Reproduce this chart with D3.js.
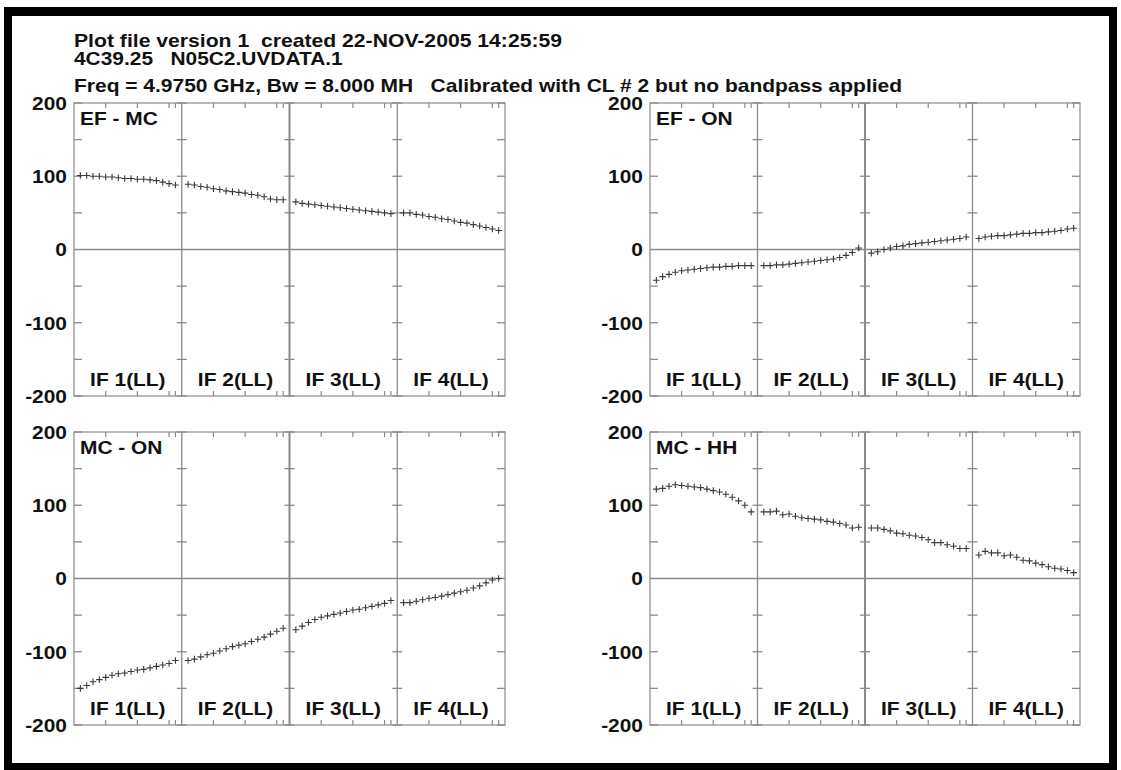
<!DOCTYPE html>
<html>
<head>
<meta charset="utf-8">
<script src="https://cdn.jsdelivr.net/npm/d3@7"></script>
<style>
  html, body { margin: 0; padding: 0; background: #fff; }
  svg { display: block; }
  text { font-family: "Liberation Sans", Arial, Helvetica, sans-serif; font-weight: bold; fill: #111; }
</style>
</head>
<body>
<script>
// ---------- data ----------
const headerLines = [
  "Plot file version 1  created 22-NOV-2005 14:25:59",
  "4C39.25   N05C2.UVDATA.1",
  "Freq = 4.9750 GHz, Bw = 8.000 MH   Calibrated with CL # 2 but no bandpass applied"
];
const panelTitles = ["EF - MC", "EF - ON", "MC - ON", "MC - HH"];
const ifLabels = ["IF 1(LL)", "IF 2(LL)", "IF 3(LL)", "IF 4(LL)"];
const channels = [1, 2, 3, 4, 5, 6, 7, 8, 9, 10, 11, 12, 13, 14, 15, 16];
const channelTicks = [5, 10, 15, 16];
const yTickLabels = [-200, -100, 0, 100, 200];
const yMinorTicks = [-200, -150, -100, -50, 50, 100, 150, 200];

const efMc = [
  [101, 101, 100, 100, 99, 99, 98, 97, 97, 96, 96, 95, 94, 92, 90, 88],
  [89, 88, 86, 85, 83, 82, 80, 79, 78, 77, 75, 74, 72, 69, 68, 68],
  [65, 63, 62, 61, 60, 59, 58, 57, 56, 55, 54, 53, 52, 51, 50, 49],
  [50, 50, 48, 47, 45, 44, 42, 41, 39, 37, 36, 34, 32, 30, 28, 26]
];
const efOn = [
  [-42, -37, -34, -31, -29, -28, -27, -26, -25, -24, -24, -23, -23, -22, -22, -22],
  [-22, -22, -21, -21, -20, -19, -18, -17, -16, -15, -14, -13, -11, -8, -4, 2],
  [-5, -3, 0, 2, 4, 5, 7, 8, 9, 10, 11, 12, 13, 14, 15, 17],
  [15, 17, 18, 19, 19, 20, 21, 22, 22, 23, 23, 24, 25, 26, 28, 29]
];
const mcOn = [
  [-150, -146, -141, -138, -135, -132, -130, -129, -127, -125, -124, -122, -120, -118, -116, -112],
  [-112, -110, -107, -104, -102, -99, -96, -93, -91, -89, -86, -83, -80, -76, -72, -68],
  [-70, -65, -60, -56, -53, -51, -49, -47, -45, -43, -42, -40, -38, -36, -34, -30],
  [-33, -33, -31, -29, -27, -26, -24, -22, -20, -18, -16, -13, -10, -6, -2, 0]
];
const mcHh = [
  [122, 123, 126, 128, 127, 126, 125, 124, 122, 120, 118, 115, 111, 106, 100, 91],
  [91, 91, 92, 87, 88, 85, 83, 82, 81, 80, 78, 77, 75, 73, 69, 70],
  [69, 69, 67, 65, 62, 61, 59, 58, 56, 53, 49, 49, 46, 44, 41, 41],
  [32, 37, 35, 35, 31, 32, 29, 25, 24, 21, 19, 16, 14, 13, 11, 8]
];
const panelSeries = [efMc, efOn, mcOn, mcHh];

// ---------- layout ----------
const W = 1121, H = 770;
const panelBoxes = [
  { x0: 74,  x1: 505,  y0: 103, y1: 396 },
  { x0: 650, x1: 1080, y0: 103, y1: 396 },
  { x0: 74,  x1: 505,  y0: 432, y1: 725 },
  { x0: 650, x1: 1080, y0: 432, y1: 725 }
];
const gridColor = "#8a8a8a";
const FONT = 19;
const STRETCH = 1.1;

const svg = d3.select("body").append("svg")
  .attr("width", W).attr("height", H)
  .attr("viewBox", `0 0 ${W} ${H}`);

svg.append("rect").attr("width", W).attr("height", H).attr("fill", "#fff");

// widen glyphs horizontally like the original plot font
function widen(sel, target) {
  sel.each(function () {
    const len = this.getComputedTextLength();
    d3.select(this)
      .attr("textLength", target || len * STRETCH)
      .attr("lengthAdjust", "spacingAndGlyphs");
  });
  return sel;
}

// thick black frame
const frame = svg.append("g").attr("fill", "#000");
frame.append("rect").attr("x", 4).attr("y", 7).attr("width", 1113).attr("height", 9);
frame.append("rect").attr("x", 4).attr("y", 7).attr("width", 8).attr("height", 763);
frame.append("rect").attr("x", 1109).attr("y", 7).attr("width", 8).attr("height", 763);
frame.append("rect").attr("x", 4).attr("y", 763).attr("width", 1113).attr("height", 7);

// header
const headerY = [47, 65, 92];
const headerWidths = [488, null, 828];
headerLines.forEach((t, i) => {
  const tx = svg.append("text")
    .attr("x", 74).attr("y", headerY[i])
    .attr("font-size", FONT)
    .style("white-space", "pre")
    .text(t);
  widen(tx, headerWidths[i]);
});

// panels
panelBoxes.forEach((b, pi) => {
  const g = svg.append("g");
  const y = d3.scaleLinear().domain([-200, 200]).range([b.y1, b.y0]);
  const ifBand = d3.scaleBand().domain(ifLabels).range([b.x0, b.x1]).padding(0);
  const ch = d3.scaleLinear().domain([0, 17]).range([0, ifBand.bandwidth()]);

  // box
  g.append("rect")
    .attr("x", b.x0).attr("y", b.y0)
    .attr("width", b.x1 - b.x0).attr("height", b.y1 - b.y0)
    .attr("fill", "none").attr("stroke", gridColor).attr("stroke-width", 1.2);

  // zero line
  g.append("line")
    .attr("x1", b.x0).attr("x2", b.x1)
    .attr("y1", y(0)).attr("y2", y(0))
    .attr("stroke", gridColor).attr("stroke-width", 1.4);

  // IF dividers
  ifLabels.slice(1).forEach((lab, k) => {
    const x = ifBand(lab);
    g.append("line")
      .attr("x1", x).attr("x2", x)
      .attr("y1", b.y0).attr("y2", b.y1)
      .attr("stroke", gridColor).attr("stroke-width", k === 1 ? 2 : 1.3);
  });

  // y ticks: left edge, right edge (inward) and across dividers
  yMinorTicks.forEach(v => {
    const yy = y(v);
    g.append("line").attr("x1", b.x0).attr("x2", b.x0 + 8).attr("y1", yy).attr("y2", yy)
      .attr("stroke", gridColor).attr("stroke-width", 1.3);
    g.append("line").attr("x1", b.x1 - 8).attr("x2", b.x1).attr("y1", yy).attr("y2", yy)
      .attr("stroke", gridColor).attr("stroke-width", 1.3);
    ifLabels.slice(1).forEach(lab => {
      const x = ifBand(lab);
      g.append("line").attr("x1", x - 5).attr("x2", x + 5).attr("y1", yy).attr("y2", yy)
        .attr("stroke", gridColor).attr("stroke-width", 1.3);
    });
  });

  // x ticks per IF on top and bottom edges
  ifLabels.forEach(lab => {
    channelTicks.forEach(c => {
      const x = ifBand(lab) + ch(c);
      g.append("line").attr("x1", x).attr("x2", x).attr("y1", b.y0).attr("y2", b.y0 + 5)
        .attr("stroke", gridColor).attr("stroke-width", 1.2);
      g.append("line").attr("x1", x).attr("x2", x).attr("y1", b.y1 - 5).attr("y2", b.y1)
        .attr("stroke", gridColor).attr("stroke-width", 1.2);
    });
  });

  // y labels
  yTickLabels.forEach(v => {
    const tx = g.append("text")
      .attr("x", b.x0 - 7).attr("y", y(v))
      .attr("dy", "0.36em")
      .attr("text-anchor", "end")
      .attr("font-size", FONT)
      .text(v);
    widen(tx);
  });

  // panel title
  widen(g.append("text")
    .attr("x", b.x0 + 6).attr("y", b.y0 + 22)
    .attr("font-size", FONT)
    .text(panelTitles[pi]));

  // IF labels
  ifLabels.forEach(lab => {
    widen(g.append("text")
      .attr("x", ifBand(lab) + ifBand.bandwidth() / 2)
      .attr("y", b.y1 - 10)
      .attr("text-anchor", "middle")
      .attr("font-size", FONT)
      .text(lab));
  });

  // data points (+ markers)
  const series = panelSeries[pi];
  ifLabels.forEach((lab, k) => {
    g.selectAll(null)
      .data(series[k].map((v, j) => ({ c: channels[j], v })))
      .enter().append("path")
      .attr("transform", d => `translate(${ifBand(lab) + ch(d.c)},${y(d.v)})`)
      .attr("d", "M-3.3,0H3.3M0,-3.3V3.3")
      .attr("stroke", "#3a3a3a").attr("stroke-width", 1.1).attr("fill", "none");
  });
});
</script>
</body>
</html>
